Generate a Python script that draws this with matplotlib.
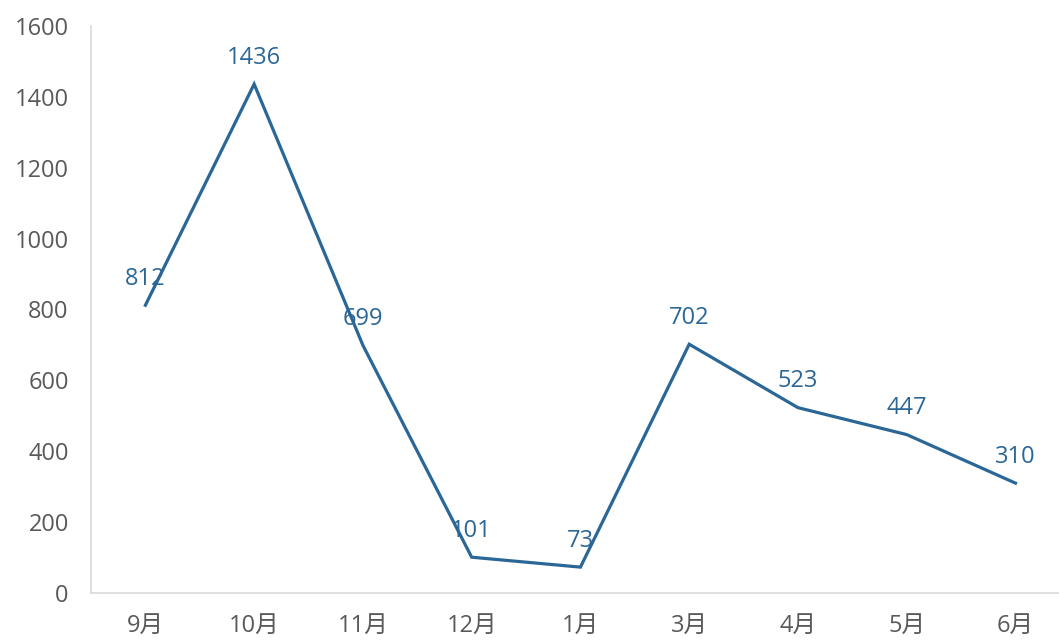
import matplotlib.pyplot as plt

plt.rcParams['font.family'] = ['Open Sans', 'Noto Sans CJK SC', 'DejaVu Sans']

months = ["9月", "10月", "11月", "12月", "1月", "3月", "4月", "5月", "6月"]
values = [812, 1436, 699, 101, 73, 702, 523, 447, 310]

line_color = "#2A6797"
text_gray = "#595959"

fig = plt.figure(figsize=(10.59, 6.43), dpi=100)
ax = fig.add_axes([91 / 1059, 50 / 643, (1059 - 91) / 1059, (593 - 26) / 643])

x = list(range(len(months)))
ax.plot(x, values, color=line_color, linewidth=2.3, solid_joinstyle="miter")

for xi, v in zip(x, values):
    ax.annotate(str(v), (xi, v), xytext=(0, 19), textcoords="offset points",
                ha="center", va="center", color=line_color, fontsize=17)

ax.set_xlim(-0.5, 8.4)
ax.set_ylim(0, 1600)
ax.set_yticks(range(0, 1601, 200))
ax.set_xticks(x)
ax.set_xticklabels(months)
ax.tick_params(axis="both", length=0, labelsize=17, colors=text_gray)
ax.tick_params(axis="y", pad=16)
ax.tick_params(axis="x", pad=15)

for s in ["top", "right"]:
    ax.spines[s].set_visible(False)
for s in ["left", "bottom"]:
    ax.spines[s].set_color("#D9D9D9")
    ax.spines[s].set_linewidth(1.2)

plt.savefig("out.png", dpi=100)
